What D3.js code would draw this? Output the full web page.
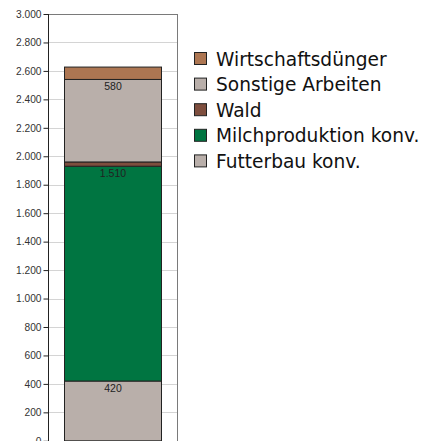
<!DOCTYPE html>
<html><head><meta charset="utf-8">
<script src="https://cdn.jsdelivr.net/npm/d3@7"></script>
<style>body{margin:0;background:#fff}svg{display:block}</style>
</head><body>
<script>
const categories = ["Futterbau konv.", "Milchproduktion konv.", "Wald", "Sonstige Arbeiten", "Wirtschaftsdünger"];
const values = [420, 1510, 30, 580, 87];
const showLabel = [true, true, false, true, false];
const labelText = ["420", "1.510", "", "580", ""];
const colors = ["#b9afaa", "#007541", "#7e4e3e", "#b9afaa", "#ad7652"];
const tickValues = [0,200,400,600,800,1000,1200,1400,1600,1800,2000,2200,2400,2600,2800,3000];
const legendOrder = ["Wirtschaftsdünger", "Sonstige Arbeiten", "Wald", "Milchproduktion konv.", "Futterbau konv."];

const W = 424, H = 441;
const svg = d3.select("body").append("svg").attr("width", W).attr("height", H);
const plotL = 48, plotR = 177.5, plotT = 14;
const y = d3.scaleLinear().domain([0, 3000]).range([440.8, 14]);
const x = d3.scaleBand().domain(["A"]).range([plotL, plotR]).paddingInner(0).paddingOuter(0.1675);

const fmt = v => d3.format(",")(v).replace(/,/g, ".");

// gridlines
svg.append("g").selectAll("line").data(tickValues.filter(t => t > 0 && t < 3000)).join("line")
  .attr("x1", plotL).attr("x2", plotR)
  .attr("y1", d => Math.round(y(d)) + 0.5).attr("y2", d => Math.round(y(d)) + 0.5)
  .attr("stroke", "#d4d4d4").attr("stroke-width", 1);

// frame top/right
svg.append("line").attr("x1", plotL).attr("x2", plotR + 0.5).attr("y1", plotT + 0.5).attr("y2", plotT + 0.5).attr("stroke", "#7a7a7a");
svg.append("line").attr("x1", plotR).attr("x2", plotR).attr("y1", plotT).attr("y2", H).attr("stroke", "#7a7a7a");

// stacked bar
let cum = 0;
const segs = values.map((v, i) => { const s = {y0: cum, y1: cum + v, i}; cum += v; return s; });
const bx = Math.round(x("A")), bw = Math.round(x.bandwidth());
svg.append("g").selectAll("rect").data(segs).join("rect")
  .attr("x", bx + 0.5).attr("width", bw)
  .attr("y", d => y(d.y1)).attr("height", d => y(d.y0) - y(d.y1))
  .attr("fill", d => colors[d.i]).attr("stroke", "#222").attr("stroke-width", 1);

svg.append("g").selectAll("text").data(segs.filter(d => showLabel[d.i])).join("text")
  .attr("x", bx + bw / 2 + 0.5).attr("y", d => y(d.y1) + 11)
  .attr("text-anchor", "middle")
  .attr("font-family", "Liberation Sans, Arial, sans-serif").attr("font-size", 10.5)
  .attr("fill", "#222").text(d => labelText[d.i]);

// y axis
const ax = svg.append("g").attr("transform", `translate(${plotL + 0.5},0)`)
  .call(d3.axisLeft(y).tickValues(tickValues).tickFormat(fmt).tickSize(5).tickPadding(2));
ax.select(".domain").attr("stroke", "#222").attr("d", `M0,${plotT}V${H}`);
ax.selectAll(".tick line").attr("stroke", "#222");
ax.selectAll(".tick text").attr("font-family", "Liberation Sans, Arial, sans-serif").attr("font-size", 10.2).attr("fill", "#333");

// legend
const lg = svg.append("g");
legendOrder.forEach((name, k) => {
  const i = categories.indexOf(name);
  const yy = 52 + k * 25.6;
  lg.append("rect").attr("x", 194.5).attr("y", yy + 0.5).attr("width", 12).attr("height", 12)
    .attr("fill", colors[i]).attr("stroke", "#222").attr("stroke-width", 1);
  lg.append("text").attr("x", 216).attr("y", yy + 13.5)
    .attr("font-family", "DejaVu Sans, sans-serif").attr("font-size", 18.6).attr("fill", "#111").text(name);
});
</script>
</body></html>
